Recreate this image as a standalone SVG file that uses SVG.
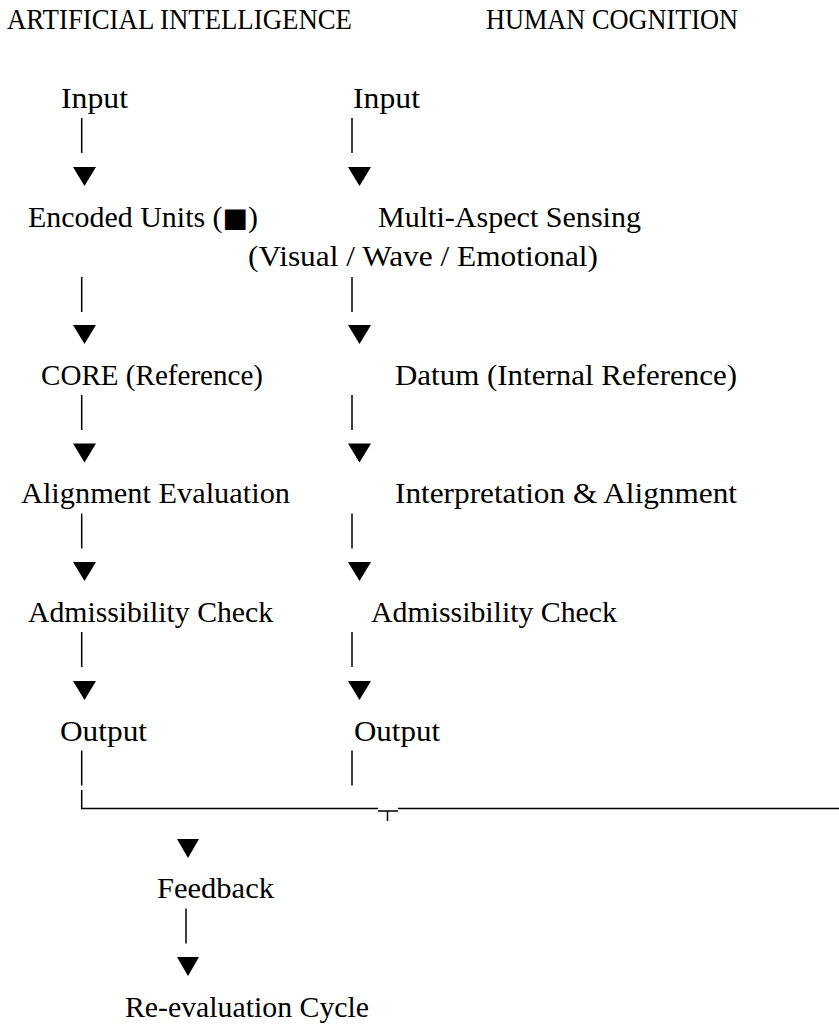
<svg xmlns="http://www.w3.org/2000/svg" width="839" height="1025" viewBox="0 0 839 1025">
<style>
text{font-family:"Liberation Serif","DejaVu Serif",serif;font-size:30px;fill:#000;}
.sq{font-family:"DejaVu Sans",sans-serif;font-size:27px;}
.c line,.c polyline{stroke:#000;stroke-width:1.5;fill:none;}
.c polygon{fill:#000;}
</style>
<rect width="839" height="1025" fill="#fff"/>
<g id="title-ai"><text x="7" y="29" textLength="345" lengthAdjust="spacingAndGlyphs">ARTIFICIAL INTELLIGENCE</text></g>
<g id="title-hc"><text x="486" y="29" textLength="252" lengthAdjust="spacingAndGlyphs">HUMAN COGNITION</text></g>
<g id="ai-input"><text x="61" y="108" textLength="67" lengthAdjust="spacingAndGlyphs">Input</text></g>
<g id="hc-input"><text x="353" y="108" textLength="67" lengthAdjust="spacingAndGlyphs">Input</text></g>
<g id="ai-encoded"><text x="28" y="226.5" textLength="230" lengthAdjust="spacingAndGlyphs">Encoded Units (<tspan class="sq">■</tspan>)</text></g>
<g id="hc-sensing"><text x="378" y="226.5" textLength="263" lengthAdjust="spacingAndGlyphs">Multi-Aspect Sensing</text><text x="248" y="266" textLength="350" lengthAdjust="spacingAndGlyphs">(Visual / Wave / Emotional)</text></g>
<g id="ai-core"><text x="41" y="384.5" textLength="222" lengthAdjust="spacingAndGlyphs">CORE (Reference)</text></g>
<g id="hc-datum"><text x="395" y="384.5" textLength="342" lengthAdjust="spacingAndGlyphs">Datum (Internal Reference)</text></g>
<g id="ai-align"><text x="21" y="503" textLength="269" lengthAdjust="spacingAndGlyphs">Alignment Evaluation</text></g>
<g id="hc-interp"><text x="395" y="503" textLength="342" lengthAdjust="spacingAndGlyphs">Interpretation &amp; Alignment</text></g>
<g id="ai-admiss"><text x="28" y="621.5" textLength="245" lengthAdjust="spacingAndGlyphs">Admissibility Check</text></g>
<g id="hc-admiss"><text x="371" y="621.5" textLength="246" lengthAdjust="spacingAndGlyphs">Admissibility Check</text></g>
<g id="ai-output"><text x="60" y="740.5" textLength="87" lengthAdjust="spacingAndGlyphs">Output</text></g>
<g id="hc-output"><text x="354" y="740.5" textLength="86" lengthAdjust="spacingAndGlyphs">Output</text></g>
<g id="feedback"><text x="157" y="898" textLength="117" lengthAdjust="spacingAndGlyphs">Feedback</text></g>
<g id="reeval"><text x="125" y="1017" textLength="244" lengthAdjust="spacingAndGlyphs">Re-evaluation Cycle</text></g>
<g id="connectors" class="c">
<line x1="81.7" y1="118" x2="81.7" y2="153"/>
<polygon points="73,167 96,167 84.5,186"/>
<line x1="81.7" y1="277" x2="81.7" y2="312"/>
<polygon points="73,325 96,325 84.5,344"/>
<line x1="81.7" y1="395" x2="81.7" y2="430"/>
<polygon points="73,443.5 96,443.5 84.5,462.5"/>
<line x1="81.7" y1="513.5" x2="81.7" y2="548.5"/>
<polygon points="73,562 96,562 84.5,581"/>
<line x1="81.7" y1="632" x2="81.7" y2="667"/>
<polygon points="73,681 96,681 84.5,700"/>
<line x1="81.7" y1="750.5" x2="81.7" y2="785.5"/>
<line x1="352" y1="118" x2="352" y2="153"/>
<polygon points="348,167 371,167 359.5,186"/>
<line x1="352" y1="277" x2="352" y2="312"/>
<polygon points="348,325 371,325 359.5,344"/>
<line x1="352" y1="395" x2="352" y2="430"/>
<polygon points="348,443.5 371,443.5 359.5,462.5"/>
<line x1="352" y1="513.5" x2="352" y2="548.5"/>
<polygon points="348,562 371,562 359.5,581"/>
<line x1="352" y1="632" x2="352" y2="667"/>
<polygon points="348,681 371,681 359.5,700"/>
<line x1="352" y1="750.5" x2="352" y2="785.5"/>
<polyline points="81.7,790 81.7,808.5 378,808.5"/>
<line x1="398" y1="808.5" x2="839" y2="808.5"/>
<line x1="378" y1="811" x2="398" y2="811"/>
<line x1="387.5" y1="811" x2="387.5" y2="821"/>
<polygon points="177,839 199,839 188,858"/>
<line x1="186" y1="908.5" x2="186" y2="943.5"/>
<polygon points="177,957 199,957 188,976"/>
</g>
</svg>
